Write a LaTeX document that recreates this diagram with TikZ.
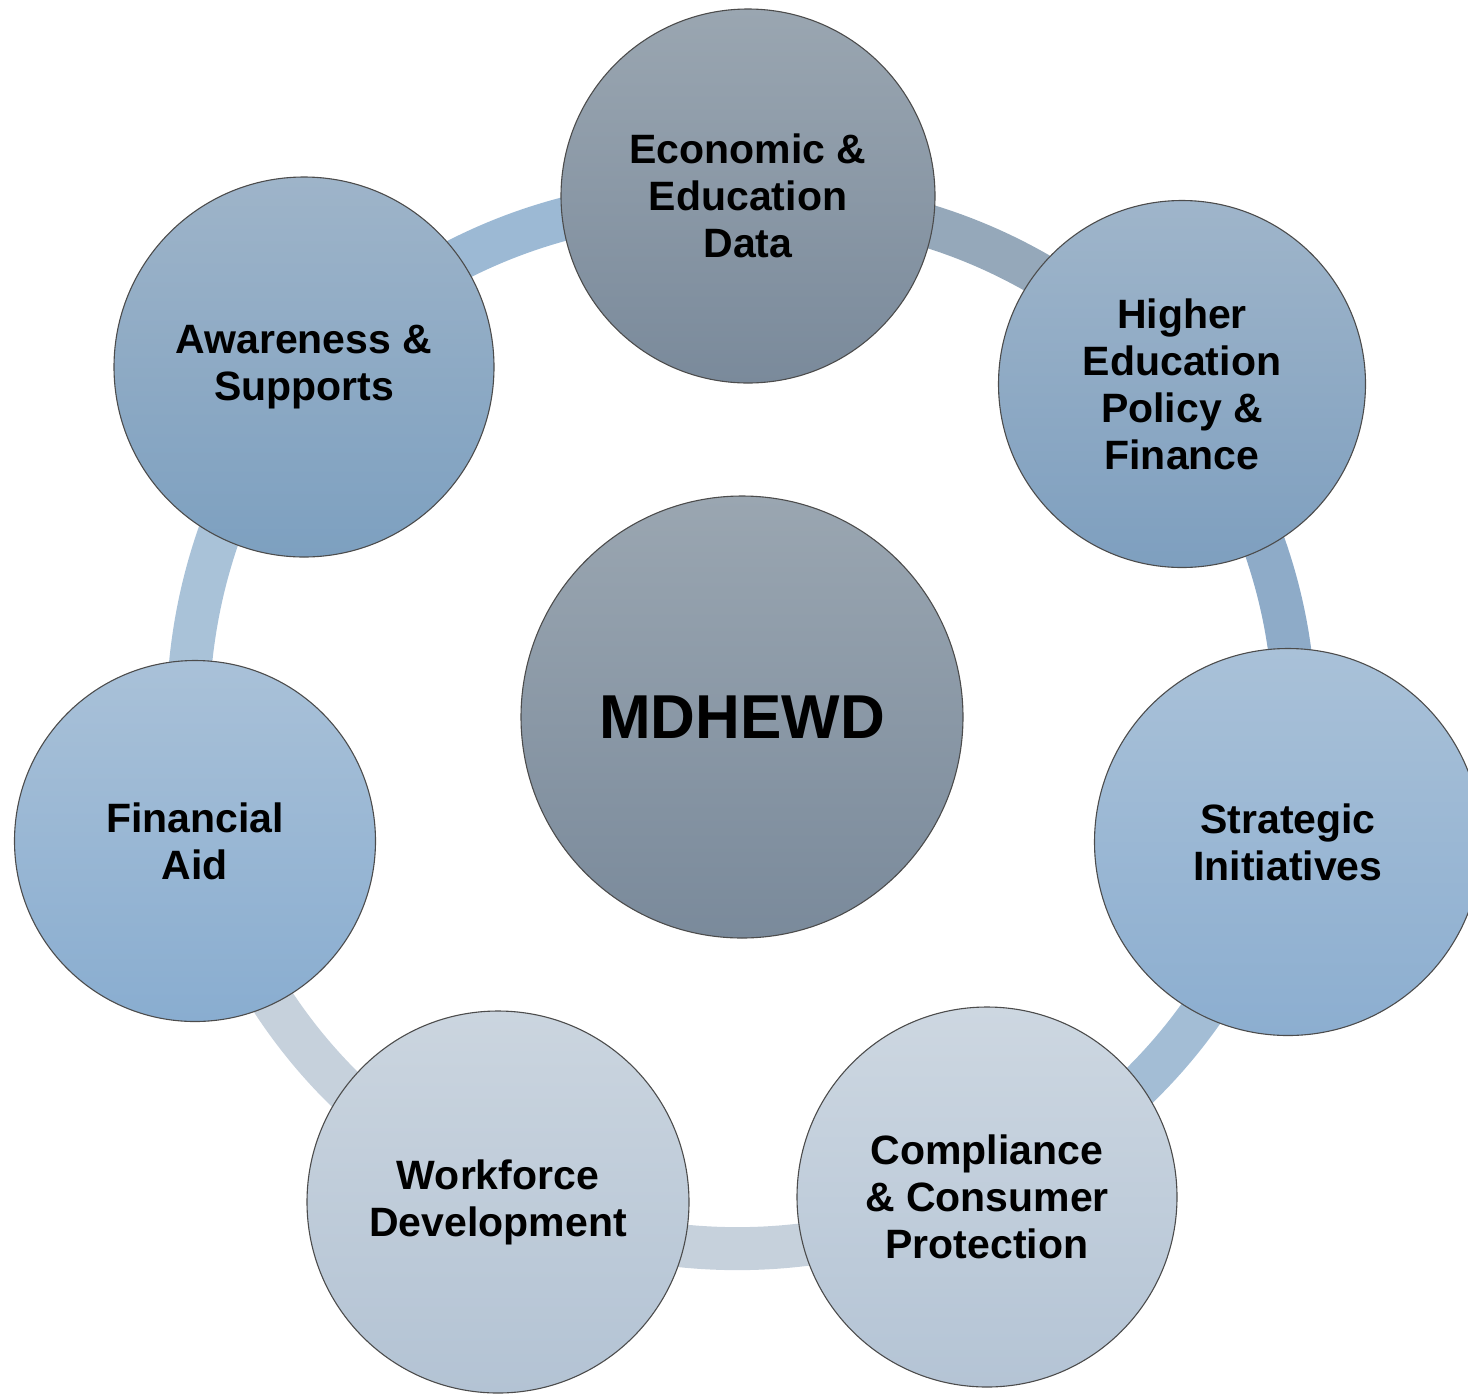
\documentclass[tikz,border=0pt]{standalone}
\usepackage{fontspec}
\setmainfont{Liberation Sans}
\usetikzlibrary{backgrounds}

\definecolor{ecoTop}{HTML}{9AA6B1}
\definecolor{ecoBot}{HTML}{7A8A9B}
\definecolor{hepTop}{HTML}{9FB5CA}
\definecolor{hepBot}{HTML}{7E9FBF}
\definecolor{strTop}{HTML}{A9C1D8}
\definecolor{strBot}{HTML}{8CAED0}
\definecolor{cmpTop}{HTML}{CDD7E1}
\definecolor{cmpBot}{HTML}{B4C4D5}
\definecolor{wfdTop}{HTML}{CBD5DF}
\definecolor{wfdBot}{HTML}{B3C3D4}
\definecolor{finTop}{HTML}{A9C1D8}
\definecolor{finBot}{HTML}{89ADD0}
\definecolor{awaTop}{HTML}{9EB4C9}
\definecolor{awaBot}{HTML}{7DA0C0}

\begin{document}
\begin{tikzpicture}[x=1pt,y=-1pt,
    topic/.style={circle, draw=black!70, line width=1.1pt, inner sep=0pt, align=center,
        font=\fontsize{41}{47}\selectfont\bfseries},
    link/.style={line width=43pt, bend left=20}]
		\useasboundingbox (0,0) rectangle (1468,1393);
		\clip (0,0) rectangle (1468,1393);

		% outer ring of offices
		\node[topic, minimum size=374pt, top color=ecoTop, bottom color=ecoBot] (eco) at (748,196) {Economic \&\\Education\\Data};
		\node[topic, minimum size=367pt, top color=hepTop, bottom color=hepBot] (hep) at (1182,384) {Higher\\Education\\Policy \&\\Finance};
		\node[topic, minimum size=387pt, top color=strTop, bottom color=strBot] (str) at (1288,842) {Strategic\\Initiatives};
		\node[topic, minimum size=380pt, top color=cmpTop, bottom color=cmpBot] (cmp) at (987,1197) {Compliance\\\& Consumer\\Protection};
		\node[topic, minimum size=382pt, top color=wfdTop, bottom color=wfdBot] (wfd) at (498,1202) {Workforce\\Development};
		\node[topic, minimum size=361pt, top color=finTop, bottom color=finBot] (fin) at (195,841) {Financial\\Aid};
		\node[topic, minimum size=380pt, top color=awaTop, bottom color=awaBot] (awa) at (304,367) {Awareness \&\\Supports};

		% centre
		\node[topic, minimum size=442pt, top color=ecoTop, bottom color=ecoBot,
		      font=\fontsize{62}{70}\selectfont\bfseries] (mdh) at (742,717) {MDHEWD};

		\begin{scope}[on background layer]
			\draw[link, color={rgb,255:red,149;green,168;blue,186}] (eco.center) to (hep.center);
			\draw[link, color={rgb,255:red,142;green,171;blue,200}] (hep.center) to (str.center);
			\draw[link, color={rgb,255:red,163;green,189;blue,213}] (str.center) to (cmp.center);
			\draw[link, color={rgb,255:red,198;green,209;blue,220}] (cmp.center) to (wfd.center);
			\draw[link, color={rgb,255:red,198;green,209;blue,220}] (wfd.center) to (fin.center);
			\draw[link, color={rgb,255:red,169;green,194;blue,216}] (fin.center) to (awa.center);
			\draw[link, color={rgb,255:red,156;green,185;blue,212}] (awa.center) to (eco.center);
		\end{scope}
\end{tikzpicture}
\end{document}
